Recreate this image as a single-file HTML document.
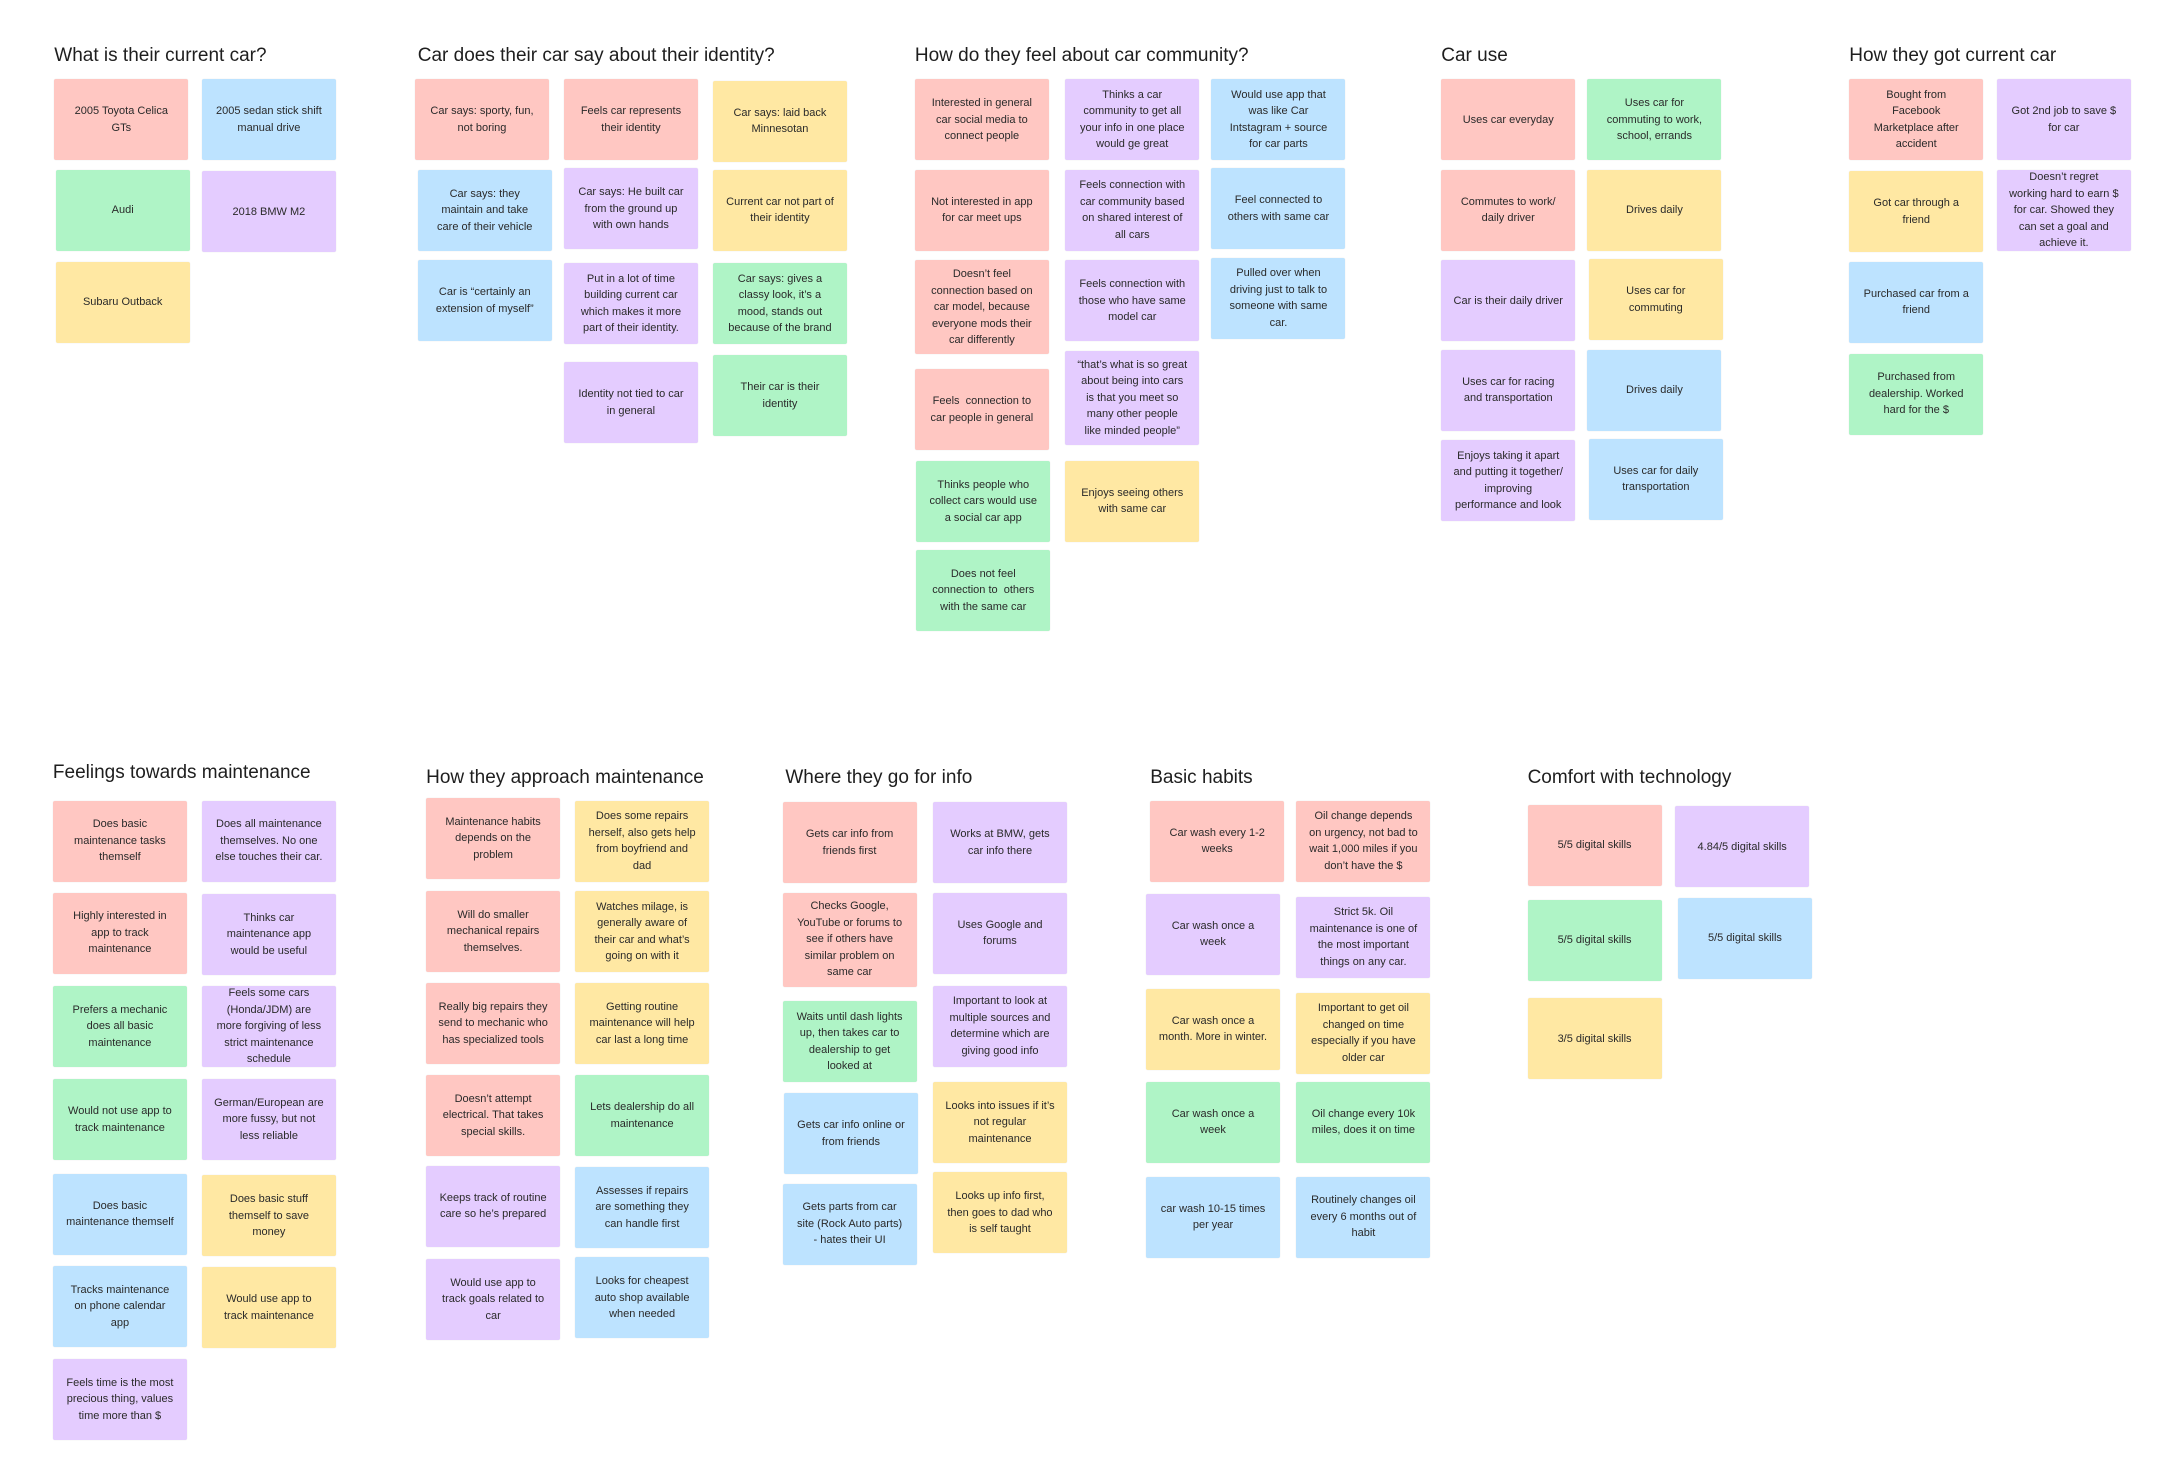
<!DOCTYPE html>
<html><head><meta charset="utf-8"><style>
body{margin:0;width:2184px;height:1478px;background:#fff;position:relative;overflow:hidden;font-family:"Liberation Sans",Arial,sans-serif;}
.h{position:absolute;left:calc(var(--x)*1.3925px);top:calc((var(--y) - 7)*1.3925px);font-size:19px;color:#1e1e1e;white-space:nowrap;}
.s{position:absolute;left:calc(var(--x)*1.3925px);top:calc(var(--y)*1.3925px);width:134px;height:81px;display:flex;align-items:center;justify-content:center;text-align:center;font-size:11px;line-height:16.5px;color:#2a2a2a;padding:0 12px;box-sizing:border-box;border-radius:2px;box-shadow:0 0 1px rgba(0,0,0,.12);}
.t{height:94px;}
.r{background:#FFC7C2}.b{background:#BDE3FF}.g{background:#AFF4C6}.p{background:#E4CCFF}.y{background:#FFE8A3}
</style></head><body>

<div class="h" style="--x:39;--y:39">What is their current car?</div>
<div class="s r" style="--x:39;--y:57">2005 Toyota Celica GTs</div>
<div class="s b" style="--x:145;--y:57">2005 sedan stick shift manual drive</div>
<div class="s g" style="--x:40;--y:122">Audi</div>
<div class="s p" style="--x:145;--y:123">2018 BMW M2</div>
<div class="s y" style="--x:40;--y:188">Subaru Outback</div>

<div class="h" style="--x:300;--y:39">Car does their car say about their identity?</div>
<div class="s r" style="--x:298;--y:57">Car says: sporty, fun, not boring</div>
<div class="s r" style="--x:405;--y:57">Feels car represents their identity</div>
<div class="s y" style="--x:512;--y:58">Car says: laid back Minnesotan</div>
<div class="s b" style="--x:300;--y:122">Car says: they maintain and take care of their vehicle</div>
<div class="s p" style="--x:405;--y:121">Car says: He built car from the ground up with own hands</div>
<div class="s y" style="--x:512;--y:122">Current car not part of their identity</div>
<div class="s b" style="--x:300;--y:187">Car is “certainly an extension of myself”</div>
<div class="s p" style="--x:405;--y:189">Put in a lot of time building current car which makes it more part of their identity.</div>
<div class="s g" style="--x:512;--y:189">Car says: gives a classy look, it’s a mood, stands out because of the brand</div>
<div class="s p" style="--x:405;--y:260">Identity not tied to car in general</div>
<div class="s g" style="--x:512;--y:255">Their car is their identity</div>

<div class="h" style="--x:657;--y:39">How do they feel about car community?</div>
<div class="s r" style="--x:657;--y:57">Interested in general car social media to connect people</div>
<div class="s r" style="--x:657;--y:122">Not interested in app for car meet ups</div>
<div class="s r t" style="--x:657;--y:187">Doesn’t feel connection based on car model, because everyone mods their car differently</div>
<div class="s r" style="--x:657;--y:265">Feels&nbsp; connection to car people in general</div>
<div class="s g" style="--x:658;--y:331">Thinks people who collect cars would use a social car app</div>
<div class="s g" style="--x:658;--y:395">Does not feel connection to&nbsp; others with the same car</div>
<div class="s p" style="--x:765;--y:57">Thinks a car community to get all your info in one place would ge great</div>
<div class="s p" style="--x:765;--y:122">Feels connection with car community based on shared interest of all cars</div>
<div class="s p" style="--x:765;--y:187">Feels connection with those who have same model car</div>
<div class="s p t" style="--x:765;--y:252">“that’s what is so great about being into cars is that you meet so many other people like minded people”</div>
<div class="s y" style="--x:765;--y:331">Enjoys seeing others with same car</div>
<div class="s b" style="--x:870;--y:57">Would use app that was like Car Intstagram + source for car parts</div>
<div class="s b" style="--x:870;--y:121">Feel connected to others with same car</div>
<div class="s b" style="--x:870;--y:185">Pulled over when driving just to talk to someone with same car.</div>

<div class="h" style="--x:1035;--y:39">Car use</div>
<div class="s r" style="--x:1035;--y:57">Uses car everyday</div>
<div class="s r" style="--x:1035;--y:122">Commutes to work/ daily driver</div>
<div class="s p" style="--x:1035;--y:187">Car is their daily driver</div>
<div class="s p" style="--x:1035;--y:251">Uses car for racing and transportation</div>
<div class="s p" style="--x:1035;--y:316">Enjoys taking it apart and putting it together/ improving performance and look</div>
<div class="s g" style="--x:1140;--y:57">Uses car for commuting to work, school, errands</div>
<div class="s y" style="--x:1140;--y:122">Drives daily</div>
<div class="s y" style="--x:1141;--y:186">Uses car for commuting</div>
<div class="s b" style="--x:1140;--y:251">Drives daily</div>
<div class="s b" style="--x:1141;--y:315">Uses car for daily transportation</div>

<div class="h" style="--x:1328;--y:39">How they got current car</div>
<div class="s r" style="--x:1328;--y:57">Bought from Facebook Marketplace after accident</div>
<div class="s y" style="--x:1328;--y:123">Got car through a friend</div>
<div class="s b" style="--x:1328;--y:188">Purchased car from a friend</div>
<div class="s g" style="--x:1328;--y:254">Purchased from dealership. Worked hard for the $</div>
<div class="s p" style="--x:1434;--y:57">Got 2nd job to save $ for car</div>
<div class="s p" style="--x:1434;--y:122">Doesn’t regret working hard to earn $ for car. Showed they can set a goal and achieve it.</div>

<div class="h" style="--x:38;--y:554">Feelings towards maintenance</div>
<div class="s r" style="--x:38;--y:575">Does basic maintenance tasks themself</div>
<div class="s r" style="--x:38;--y:641">Highly interested in app to track maintenance</div>
<div class="s g" style="--x:38;--y:708">Prefers a mechanic does all basic maintenance</div>
<div class="s g" style="--x:38;--y:775">Would not use app to track maintenance</div>
<div class="s b" style="--x:38;--y:843">Does basic maintenance themself</div>
<div class="s b" style="--x:38;--y:909">Tracks maintenance on phone calendar app</div>
<div class="s p" style="--x:38;--y:976">Feels time is the most precious thing, values time more than $</div>
<div class="s p" style="--x:145;--y:575">Does all maintenance themselves. No one else touches their car.</div>
<div class="s p" style="--x:145;--y:642">Thinks car maintenance app would be useful</div>
<div class="s p" style="--x:145;--y:708">Feels some cars (Honda/JDM) are more forgiving of less strict maintenance schedule</div>
<div class="s p" style="--x:145;--y:775">German/European are more fussy, but not less reliable</div>
<div class="s y" style="--x:145;--y:844">Does basic stuff themself to save money</div>
<div class="s y" style="--x:145;--y:910">Would use app to track maintenance</div>

<div class="h" style="--x:306;--y:558">How they approach maintenance</div>
<div class="s r" style="--x:306;--y:573">Maintenance habits depends on the problem</div>
<div class="s r" style="--x:306;--y:640">Will do smaller mechanical repairs themselves.</div>
<div class="s r" style="--x:306;--y:706">Really big repairs they send to mechanic who has specialized tools</div>
<div class="s r" style="--x:306;--y:772">Doesn’t attempt electrical. That takes special skills.</div>
<div class="s p" style="--x:306;--y:837">Keeps track of routine care so he’s prepared</div>
<div class="s p" style="--x:306;--y:904">Would use app to track goals related to car</div>
<div class="s y" style="--x:413;--y:575">Does some repairs herself, also gets help from boyfriend and dad</div>
<div class="s y" style="--x:413;--y:640">Watches milage, is generally aware of their car and what’s going on with it</div>
<div class="s y" style="--x:413;--y:706">Getting routine maintenance will help car last a long time</div>
<div class="s g" style="--x:413;--y:772">Lets dealership do all maintenance</div>
<div class="s b" style="--x:413;--y:838">Assesses if repairs are something they can handle first</div>
<div class="s b" style="--x:413;--y:903">Looks for cheapest auto shop available when needed</div>

<div class="h" style="--x:564;--y:558">Where they go for info</div>
<div class="s r" style="--x:562;--y:576">Gets car info from friends first</div>
<div class="s r t" style="--x:562;--y:641">Checks Google, YouTube or forums to see if others have similar problem on same car</div>
<div class="s g" style="--x:562;--y:719">Waits until dash lights up, then takes car to dealership to get looked at</div>
<div class="s b" style="--x:563;--y:785">Gets car info online or from friends</div>
<div class="s b" style="--x:562;--y:850">Gets parts from car site (Rock Auto parts) - hates their UI</div>
<div class="s p" style="--x:670;--y:576">Works at BMW, gets car info there</div>
<div class="s p" style="--x:670;--y:641">Uses Google and forums</div>
<div class="s p" style="--x:670;--y:708">Important to look at multiple sources and determine which are giving good info</div>
<div class="s y" style="--x:670;--y:777">Looks into issues if it’s not regular maintenance</div>
<div class="s y" style="--x:670;--y:842">Looks up info first, then goes to dad who is self taught</div>

<div class="h" style="--x:826;--y:558">Basic habits</div>
<div class="s r" style="--x:826;--y:575">Car wash every 1-2 weeks</div>
<div class="s p" style="--x:823;--y:642">Car wash once a week</div>
<div class="s y" style="--x:823;--y:710">Car wash once a month. More in winter.</div>
<div class="s g" style="--x:823;--y:777">Car wash once a week</div>
<div class="s b" style="--x:823;--y:845">car wash 10-15 times per year</div>
<div class="s r" style="--x:931;--y:575">Oil change depends on urgency, not bad to wait 1,000 miles if you don’t have the $</div>
<div class="s p" style="--x:931;--y:644">Strict 5k. Oil maintenance is one of the most important things on any car.</div>
<div class="s y" style="--x:931;--y:713">Important to get oil changed on time especially if you have older car</div>
<div class="s g" style="--x:931;--y:777">Oil change every 10k miles, does it on time</div>
<div class="s b" style="--x:931;--y:845">Routinely changes oil every 6 months out of habit</div>

<div class="h" style="--x:1097;--y:558">Comfort with technology</div>
<div class="s r" style="--x:1097;--y:578">5/5 digital skills</div>
<div class="s p" style="--x:1203;--y:579">4.84/5 digital skills</div>
<div class="s g" style="--x:1097;--y:646">5/5 digital skills</div>
<div class="s b" style="--x:1205;--y:645">5/5 digital skills</div>
<div class="s y" style="--x:1097;--y:717">3/5 digital skills</div>

</body></html>
